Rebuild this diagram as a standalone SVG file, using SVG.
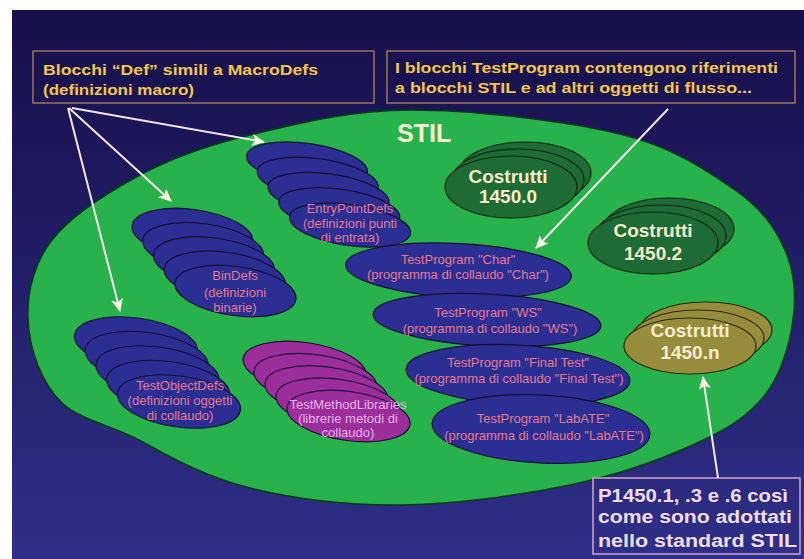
<svg xmlns="http://www.w3.org/2000/svg" width="804" height="559" viewBox="0 0 804 559">
<defs>
<linearGradient id="bg" x1="0" y1="0" x2="0" y2="1">
<stop offset="0" stop-color="#170f4a"/>
<stop offset="1" stop-color="#2e2f88"/>
</linearGradient>
<marker id="ah" markerUnits="userSpaceOnUse" markerWidth="14" markerHeight="12" refX="12" refY="6" orient="auto">
<path d="M0,0 L13,6 L0,12 L3,6 z" fill="#fffbe6"/>
</marker>
<style>
.lbl{font-family:"Liberation Sans",Arial,sans-serif;font-weight:bold;font-size:15px;fill:#f2c64a}
.lbl3{font-family:"Liberation Sans",Arial,sans-serif;font-weight:bold;font-size:18px;fill:#f3dcf0}
.box{fill:none;stroke:#9c7460;stroke-width:1.5}
.box3{fill:none;stroke:#d6a2c8;stroke-width:1.5}
.b{fill:#2b2f94;stroke:#1a0f36;stroke-width:1.2}
.m{fill:#9c2e9c;stroke:#1a0f36;stroke-width:1.2}
.dg{fill:#1f6b35;stroke:#0c2a14;stroke-width:1.2}
.ol{fill:#968c3c;stroke:#2a2a10;stroke-width:1.2}
.t{font-family:"Liberation Sans",Arial,sans-serif;font-size:13px;fill:#e6788c;text-anchor:middle}
.tm{font-family:"Liberation Sans",Arial,sans-serif;font-size:13px;fill:#e8aee8;text-anchor:middle}
.c{font-family:"Liberation Sans",Arial,sans-serif;font-weight:bold;font-size:19px;fill:#f6eccb;text-anchor:middle}
.ar{fill:none;stroke:#f5e6ee;stroke-width:2;marker-end:url(#ah)}
</style>
</defs>
<rect x="0" y="0" width="804" height="559" fill="#ffffff"/>
<rect x="12" y="10" width="792" height="549" fill="url(#bg)"/>
<g id="stil">
<path d="M410,110 C471.7,109.8 565.8,120.7 620,134 C674.2,147.3 707.5,170.7 735,190 C762.5,209.3 775.3,228.3 785,250 C794.7,271.7 796.3,295.8 793,320 C789.7,344.2 781,374.5 765,395 C749,415.5 729.5,428 697,443 C664.5,458 619.5,474.7 570,485 C520.5,495.3 453.3,504.5 400,505 C346.7,505.5 292.8,498.5 250,488 C207.2,477.5 172,458 143,442 C114,426 80,420 62,403 C42,384 29,350 28,318 C27,290 35,262 52,240 C72,214 107.5,192.5 140,175 C172.5,157.5 205,145.8 250,135 C295,124.2 348.3,110.2 410,110 Z" fill="#27b24b" stroke="#0b3a1a" stroke-width="1.5"/>
<text x="397" y="142" font-family="Liberation Sans, Arial, sans-serif" font-weight="bold" font-size="25" fill="#f8f2d6">STIL</text>
</g>
<g id="entrypointdefs">
<ellipse class="b" cx="307" cy="164" rx="61" ry="20.5" transform="rotate(8 307 164)"/>
<ellipse class="b" cx="317.75" cy="179.25" rx="61" ry="20.5" transform="rotate(8 317.75 179.25)"/>
<ellipse class="b" cx="328.5" cy="194.5" rx="61" ry="20.5" transform="rotate(8 328.5 194.5)"/>
<ellipse class="b" cx="339.25" cy="209.75" rx="61" ry="20.5" transform="rotate(8 339.25 209.75)"/>
<ellipse class="b" cx="350" cy="225" rx="61" ry="20.5" transform="rotate(8 350 225)"/>
<text class="t" x="350" y="213">EntryPointDefs</text>
<text class="t" x="350" y="228">(definizioni punti</text>
<text class="t" x="350" y="242">di entrata)</text>
</g>
<g id="bindefs">
<ellipse class="b" cx="192.5" cy="234" rx="61" ry="24.5" transform="rotate(8 192.5 234)"/>
<ellipse class="b" cx="203.25" cy="248.25" rx="61" ry="24.5" transform="rotate(8 203.25 248.25)"/>
<ellipse class="b" cx="214" cy="262.5" rx="61" ry="24.5" transform="rotate(8 214 262.5)"/>
<ellipse class="b" cx="224.75" cy="276.75" rx="61" ry="24.5" transform="rotate(8 224.75 276.75)"/>
<ellipse class="b" cx="235.5" cy="291" rx="61" ry="24.5" transform="rotate(8 235.5 291)"/>
<text class="t" x="235" y="280">BinDefs</text>
<text class="t" x="235" y="297">(definizioni</text>
<text class="t" x="235" y="312">binarie)</text>
</g>
<g id="testobjectdefs">
<ellipse class="b" cx="136" cy="343.5" rx="62" ry="25.5" transform="rotate(8 136 343.5)"/>
<ellipse class="b" cx="146.75" cy="358" rx="62" ry="25.5" transform="rotate(8 146.75 358)"/>
<ellipse class="b" cx="157.5" cy="372.5" rx="62" ry="25.5" transform="rotate(8 157.5 372.5)"/>
<ellipse class="b" cx="168.25" cy="387" rx="62" ry="25.5" transform="rotate(8 168.25 387)"/>
<ellipse class="b" cx="179" cy="401.5" rx="62" ry="25.5" transform="rotate(8 179 401.5)"/>
<text class="t" x="180" y="390">TestObjectDefs</text>
<text class="t" x="180" y="405">(definizioni oggetti</text>
<text class="t" x="180" y="420">di collaudo)</text>
</g>
<g id="testmethodlibraries">
<ellipse class="m" cx="304.5" cy="367" rx="62" ry="24.5" transform="rotate(8 304.5 367)"/>
<ellipse class="m" cx="315.5" cy="379.25" rx="62" ry="24.5" transform="rotate(8 315.5 379.25)"/>
<ellipse class="m" cx="326.5" cy="391.5" rx="62" ry="24.5" transform="rotate(8 326.5 391.5)"/>
<ellipse class="m" cx="337.5" cy="403.75" rx="62" ry="24.5" transform="rotate(8 337.5 403.75)"/>
<ellipse class="m" cx="348.5" cy="416" rx="62" ry="24.5" transform="rotate(8 348.5 416)"/>
<text class="tm" x="348" y="409">TestMethodLibraries</text>
<text class="tm" x="348" y="423">(librerie metodi di</text>
<text class="tm" x="348" y="437">collaudo)</text>
</g>
<g id="tp-char">
<ellipse class="b" cx="458.5" cy="270.5" rx="113" ry="27" transform="rotate(3 458.5 270.5)"/>
<text class="t" x="458" y="264">TestProgram "Char"</text>
<text class="t" x="458" y="279">(programma di collaudo "Char")</text>
</g>
<g id="tp-ws">
<ellipse class="b" cx="487" cy="320" rx="114" ry="26" transform="rotate(3 487 320)"/>
<text class="t" x="488" y="317">TestProgram "WS"</text>
<text class="t" x="490" y="333">(programma di collaudo "WS")</text>
</g>
<g id="tp-final">
<ellipse class="b" cx="518" cy="375" rx="112" ry="30" transform="rotate(3 518 375)"/>
<text class="t" x="518" y="367">TestProgram "Final Test"</text>
<text class="t" x="519" y="383">(programma di collaudo "Final Test")</text>
</g>
<g id="tp-labate">
<ellipse class="b" cx="541" cy="429" rx="109" ry="34" transform="rotate(3 541 429)"/>
<text class="t" x="543" y="423">TestProgram "LabATE"</text>
<text class="t" x="544" y="440">(programma di collaudo "LabATE")</text>
</g>
<g id="c14500">
<ellipse class="dg" cx="525" cy="173" rx="66" ry="31"/>
<ellipse class="dg" cx="518" cy="180" rx="66" ry="31"/>
<ellipse class="dg" cx="511" cy="187" rx="66" ry="31"/>
<text class="c" x="508" y="183">Costrutti</text>
<text class="c" x="508" y="203">1450.0</text>
</g>
<g id="c14502">
<ellipse class="dg" cx="669" cy="229" rx="65" ry="31"/>
<ellipse class="dg" cx="661" cy="236" rx="65" ry="31"/>
<ellipse class="dg" cx="653" cy="243" rx="65" ry="31"/>
<text class="c" x="653" y="237">Costrutti</text>
<text class="c" x="653" y="260">1450.2</text>
</g>
<g id="c1450n">
<ellipse class="ol" cx="706" cy="330" rx="66" ry="28"/>
<ellipse class="ol" cx="698" cy="338" rx="66" ry="28"/>
<ellipse class="ol" cx="690" cy="346" rx="66" ry="28"/>
<text class="c" x="690" y="337">Costrutti</text>
<text class="c" x="690" y="359">1450.n</text>
</g>
<g id="note-def">
<rect class="box" x="33" y="51" width="341" height="52"/>
<text class="lbl" x="43" y="75" textLength="275" lengthAdjust="spacingAndGlyphs">Blocchi “Def” simili a MacroDefs</text>
<text class="lbl" x="43" y="95" textLength="151" lengthAdjust="spacingAndGlyphs">(definizioni macro)</text>
</g>
<g id="note-testprogram">
<rect class="box" x="387" y="51" width="408" height="52"/>
<text class="lbl" x="395" y="73" textLength="383" lengthAdjust="spacingAndGlyphs">I blocchi TestProgram contengono riferimenti</text>
<text class="lbl" x="395" y="93" textLength="357" lengthAdjust="spacingAndGlyphs">a blocchi STIL e ad altri oggetti di flusso...</text>
</g>
<g id="note-p1450">
<rect class="box3" x="593" y="478" width="207" height="76"/>
<text class="lbl3" x="598" y="502" textLength="190" lengthAdjust="spacingAndGlyphs">P1450.1, .3 e .6 così</text>
<text class="lbl3" x="598" y="523" textLength="194" lengthAdjust="spacingAndGlyphs">come sono adottati</text>
<text class="lbl3" x="598" y="547" textLength="199" lengthAdjust="spacingAndGlyphs">nello standard STIL</text>
</g>
<g id="connectors">
<line class="ar" x1="72" y1="108" x2="264" y2="142"/>
<line class="ar" x1="69" y1="108" x2="171" y2="201"/>
<line class="ar" x1="68" y1="108" x2="120" y2="311"/>
<line class="ar" x1="668" y1="109" x2="536" y2="248"/>
<line class="ar" x1="718" y1="478" x2="703" y2="377"/>
</g>
</svg>
